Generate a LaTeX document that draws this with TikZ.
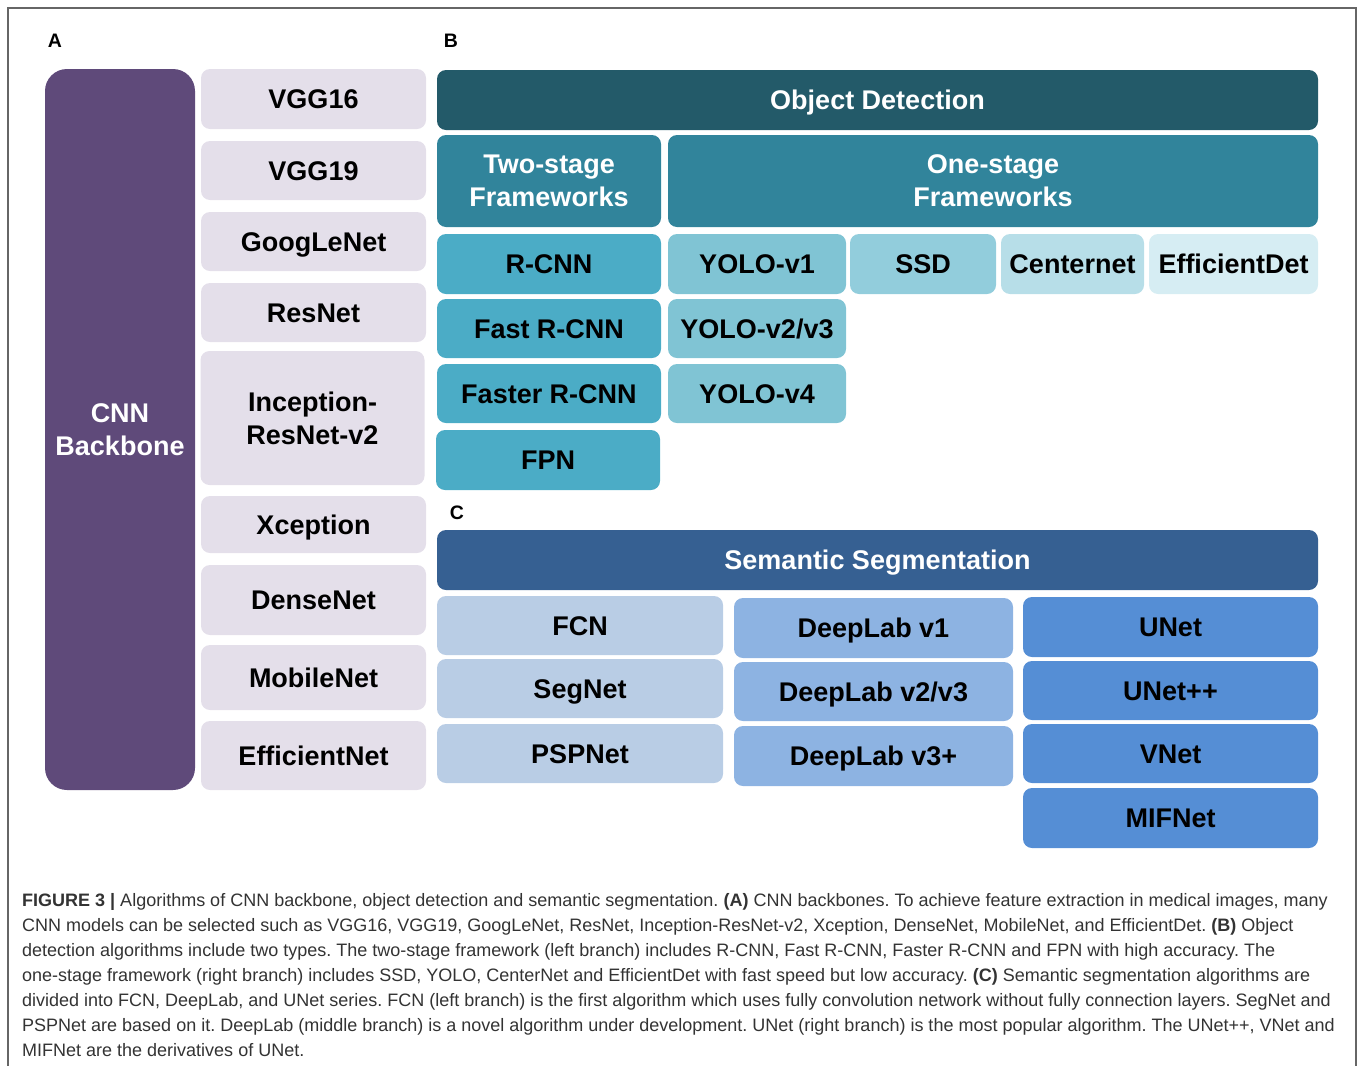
\documentclass[tikz,border=0pt]{standalone}
\usepackage{fontspec}
\setmainfont{Liberation Sans}
\usetikzlibrary{positioning}
\definecolor{backbone}{HTML}{5F4A7A}
\definecolor{backlight}{HTML}{E4DFEA}
\definecolor{detdark}{HTML}{235A69}
\definecolor{detmid}{HTML}{31849B}
\definecolor{twostage}{HTML}{4BACC6}
\definecolor{yolo}{HTML}{80C4D4}
\definecolor{ssd}{HTML}{92CDDC}
\definecolor{centernet}{HTML}{B7DEE8}
\definecolor{effdet}{HTML}{D6EDF3}
\definecolor{segdark}{HTML}{366092}
\definecolor{fcn}{HTML}{B9CDE5}
\definecolor{deeplab}{HTML}{8DB3E2}
\definecolor{unet}{HTML}{558ED5}
\definecolor{framegray}{HTML}{666666}
\definecolor{captext}{HTML}{333333}
\tikzset{
    algbox/.style = {rounded corners=9pt, inner sep=0pt, align=center,
        font=\bfseries\fontsize{27}{33}\selectfont},
    onebox/.style = {algbox, text height=19.5pt, text depth=0pt},
    headbox/.style = {onebox, text=white},
    panellabel/.style = {font=\bfseries\fontsize{19.5}{22}\selectfont},
    capline/.style = {anchor=base west, text=captext, inner sep=0pt,
        font=\fontsize{18}{25}\selectfont}
}
\frenchspacing

\begin{document}
\begin{tikzpicture}[x=1pt, y=-1pt]
    \useasboundingbox (0,0) rectangle (1358,1066);
    \draw[framegray, line width=1.2pt] (8,1066) -- (8,8) -- (1356,8) -- (1356,1066);

    \node[panellabel] (labA) at (55,41) {A};
    \node[panellabel] (labB) at (451,41) {B};
    \node[panellabel] (labC) at (457,513) {C};

    \node[algbox, rounded corners=22pt, fill=backbone, text=white,
        minimum width=150pt, minimum height=721pt] (cnn) at (120,429.5) {CNN\\Backbone};

    \foreach \name/\ya/\yb/\Label in {%
        vgg16/69/129/VGG16,
        vgg19/141/200/VGG19,
        googlenet/212/271/GoogLeNet,
        resnet/283/342/ResNet,
        xception/496/553/Xception,
        densenet/565/635/DenseNet,
        mobilenet/645/710/MobileNet,
        efficientnet/721/790/EfficientNet%
        }
    \node[onebox, fill=backlight, minimum width=225pt,
        minimum height={(\yb-\ya)*1pt}] (\name) at (313.5,{(\ya+\yb)/2}) {\Label};
    \node[algbox, fill=backlight, minimum width=224pt, minimum height=134pt]
        (inception) at (312.5,418) {Inception-\\ResNet-v2};

    \node[headbox, fill=detdark, minimum width=881pt, minimum height=60pt]
        (objdet) at (877.5,100) {Object Detection};
    \node[algbox, fill=detmid, text=white, minimum width=224pt, minimum height=92pt]
        (twostagefw) at (549,181) {Two-stage\\Frameworks};
    \node[algbox, fill=detmid, text=white, minimum width=650pt, minimum height=92pt]
        (onestagefw) at (993,181) {One-stage\\Frameworks};

    \foreach \name/\xa/\xb/\ya/\yb/\col/\Label in {%
        rcnn/437/661/234/294/twostage/R-CNN,
        fastrcnn/437/661/299/358/twostage/Fast R-CNN,
        fasterrcnn/437/661/364/423/twostage/Faster R-CNN,
        fpn/436/660/430/490/twostage/FPN,
        yolov1/668/846/234/294/yolo/YOLO-v1,
        yolov23/668/846/299/358/yolo/{YOLO-v2/v3},
        yolov4/668/846/364/423/yolo/YOLO-v4,
        ssd/850/996/234/294/ssd/SSD,
        centernet/1001/1144/234/294/centernet/Centernet,
        efficientdet/1149/1318/234/294/effdet/EfficientDet,
        fcn/437/723/596/655/fcn/FCN,
        segnet/437/723/659/718/fcn/SegNet,
        pspnet/437/723/724/783/fcn/PSPNet,
        deeplabone/734/1013/598/658/deeplab/DeepLab v1,
        deeplabtwo/734/1013/662/721/deeplab/{DeepLab v2/v3},
        deeplabplus/734/1013/726/786/deeplab/DeepLab v3+,
        unet/1023/1318/597/657/unet/UNet,
        unetpp/1023/1318/661/720/unet/UNet++,
        vnet/1023/1318/724/783/unet/VNet,
        mifnet/1023/1318/788/848/unet/MIFNet%
        }
    \node[onebox, fill=\col, minimum width={(\xb-\xa)*1pt},
        minimum height={(\yb-\ya)*1pt}] (\name) at ({(\xa+\xb)/2},{(\ya+\yb)/2}) {\Label};

    \node[headbox, fill=segdark, minimum width=881pt, minimum height=60pt]
        (semseg) at (877.5,560) {Semantic Segmentation};

    \node[capline] (cap1) at (22,906) {\textbf{FIGURE 3 |} Algorithms of CNN backbone, object detection and semantic segmentation. \textbf{(A)} CNN backbones. To achieve feature extraction in medical images, many};
    \node[capline] (cap2) at (22,931) {CNN models can be selected such as VGG16, VGG19, GoogLeNet, ResNet, Inception-ResNet-v2, Xception, DenseNet, MobileNet, and EfficientDet. \textbf{(B)} Object};
    \node[capline] (cap3) at (22,956) {detection algorithms include two types. The two-stage framework (left branch) includes R-CNN, Fast R-CNN, Faster R-CNN and FPN with high accuracy. The};
    \node[capline] (cap4) at (22,981) {one-stage framework (right branch) includes SSD, YOLO, CenterNet and EfficientDet with fast speed but low accuracy. \textbf{(C)} Semantic segmentation algorithms are};
    \node[capline] (cap5) at (22,1006) {divided into FCN, DeepLab, and UNet series. FCN (left branch) is the first algorithm which uses fully convolution network without fully connection layers. SegNet and};
    \node[capline] (cap6) at (22,1031) {PSPNet are based on it. DeepLab (middle branch) is a novel algorithm under development. UNet (right branch) is the most popular algorithm. The UNet++, VNet and};
    \node[capline] (cap7) at (22,1056) {MIFNet are the derivatives of UNet.};
\end{tikzpicture}
\end{document}
